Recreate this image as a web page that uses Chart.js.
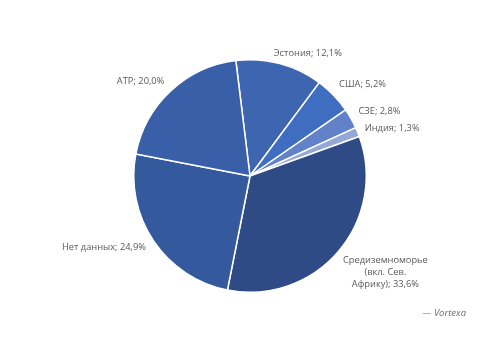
<!DOCTYPE html>
<html>
<head>
<meta charset="utf-8">
<script src="https://cdn.jsdelivr.net/npm/chart.js@4.4.1/dist/chart.umd.min.js"></script>
<style>
  html, body { margin: 0; padding: 0; background: #ffffff; }
  #wrap { width: 500px; height: 353px; position: relative; }
</style>
</head>
<body>
<div id="wrap"><canvas id="c" width="500" height="353"></canvas></div>
<script>
// ---- data ----
const categories = ["Эстония", "США", "СЗЕ", "Индия", "Средиземноморье (вкл. Сев. Африку)", "Нет данных", "АТР"];
const labelLines = [["Эстония; 12,1%"], ["США; 5,2%"], ["СЗЕ; 2,8%"], ["Индия; 1,3%"], ["Средиземноморье", "(вкл. Сев.", "Африку); 33,6%"], ["Нет данных; 24,9%"], ["АТР; 20,0%"]];
const shares = [12.1, 5.2, 2.8, 1.3, 33.6, 24.9, 20.0];
const sourceNote = "— Vortexa";

// ---- styling ----
const sliceColors = ["#3E66B0", "#3F6EC0", "#6182C9", "#94A8D8", "#2E4B86", "#34599D", "#385FA7"];
const labelNudge = [[23, 9.5], [14.6, 3.3], [11, 3], [16, 4], [32, 7.5], [-33, -5], [-16.4, 4.6]];
const labelGap = 20;
const labelFont = '9.3px "Open Sans", sans-serif';
const labelColor = '#595959';

const pieLabels = {
  id: 'pieLabels',
  afterDatasetsDraw(chart) {
    const ctx = chart.ctx;
    const meta = chart.getDatasetMeta(0);
    ctx.save();
    ctx.font = labelFont;
    ctx.fillStyle = labelColor;
    ctx.textAlign = 'center';
    ctx.textBaseline = 'middle';
    meta.data.forEach((arc, i) => {
      const p = arc.getProps(['x', 'y', 'startAngle', 'endAngle', 'outerRadius'], true);
      const mid = (p.startAngle + p.endAngle) / 2;
      const R = p.outerRadius + labelGap;
      const cx = p.x + Math.cos(mid) * R + labelNudge[i][0];
      const cy = p.y + Math.sin(mid) * R + labelNudge[i][1];
      const lines = labelLines[i];
      const lh = 11.7;
      lines.forEach((ln, k) => {
        ctx.fillText(ln, cx, cy + (k - (lines.length - 1) / 2) * lh);
      });
    });
    // source note
    ctx.font = 'italic 9.5px "Open Sans", sans-serif';
    ctx.fillStyle = '#6b6b6b';
    ctx.textAlign = 'right';
    ctx.fillText(sourceNote, 466, 313);
    ctx.restore();
  }
};

const bgPlugin = {
  id: 'bg',
  beforeDraw(chart) {
    const ctx = chart.ctx;
    ctx.save();
    ctx.fillStyle = '#ffffff';
    ctx.fillRect(0, 0, chart.width, chart.height);
    ctx.restore();
  }
};

new Chart(document.getElementById('c'), {
  type: 'pie',
  data: {
    labels: categories,
    datasets: [{
      data: shares,
      backgroundColor: sliceColors,
      borderColor: '#ffffff',
      borderWidth: 1.5
    }]
  },
  options: {
    responsive: false,
    animation: false,
    rotation: -7,
    layout: { padding: { top: 59, bottom: 60, left: 100, right: 100 } },
    plugins: {
      legend: { display: false },
      tooltip: { enabled: false }
    }
  },
  plugins: [bgPlugin, pieLabels]
});
</script>
</body>
</html>
